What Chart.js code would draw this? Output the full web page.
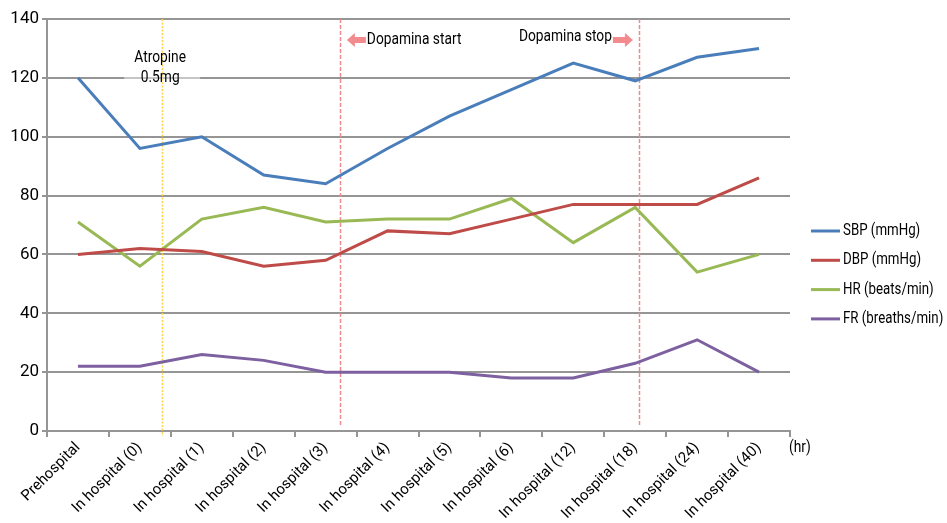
<!DOCTYPE html>
<html>
<head>
<meta charset="utf-8">
<script src="https://cdn.jsdelivr.net/npm/chart.js@4/dist/chart.umd.min.js"></script>
<style>
  html, body { margin: 0; padding: 0; background: #ffffff; }
  #wrap { width: 947px; height: 523px; }
</style>
</head>
<body>
<div id="wrap"><canvas id="vitals" width="947" height="523"></canvas></div>
<script>
// Time points of the observation
const categories = [
  'Prehospital', 'In hospital (0)', 'In hospital (1)', 'In hospital (2)',
  'In hospital (3)', 'In hospital (4)', 'In hospital (5)', 'In hospital (6)',
  'In hospital (12)', 'In hospital (18)', 'In hospital (24)', 'In hospital (40)'
];

// Vital signs at each time point
const sbp = [120, 96, 100, 87, 84, 96, 107, 116, 125, 119, 127, 130];
const dbp = [60, 62, 61, 56, 58, 68, 67, 72, 77, 77, 77, 86];
const hr  = [71, 56, 72, 76, 71, 72, 72, 79, 64, 76, 54, 60];
const fr  = [22, 22, 26, 24, 20, 20, 20, 18, 18, 23, 31, 20];

const seriesNames = ['SBP (mmHg)', 'DBP (mmHg)', 'HR (beats/min)', 'FR (breaths/min)'];
const seriesColors = ['#4a7ebb', '#be4b48', '#98b954', '#7d60a0'];

// Y axis range
const yMin = 0, yMax = 140, yStep = 20;

// Treatment events, placed on the category index axis
const atropineAt = 1.36;
const dopaStartAt = 4.23;
const dopaStopAt = 9.06;

const FONT = 'Roboto, "Liberation Sans", sans-serif';

// Text squeezed horizontally for a condensed look
function narrowText(ctx, text, x, y, align, sx) {
  ctx.save();
  ctx.translate(x, y);
  ctx.scale(sx, 1);
  ctx.textAlign = align;
  ctx.fillText(text, 0, 0);
  ctx.restore();
}

const annotations = {
  id: 'annotations',
  beforeDatasetsDraw(chart) {
    const ctx = chart.ctx;
    const x = chart.scales.x;
    const area = chart.chartArea;
    ctx.save();
    // Atropine marker
    const xa = Math.round(x.getPixelForValue(atropineAt)) + 0.5;
    ctx.strokeStyle = '#ffd34d';
    ctx.lineWidth = 1.5;
    ctx.setLineDash([2, 1.5]);
    ctx.beginPath();
    ctx.moveTo(xa, area.top);
    ctx.lineTo(xa, area.bottom + 5);
    ctx.stroke();
    // Dopamine start / stop markers
    ctx.strokeStyle = '#f08a8e';
    ctx.setLineDash([4, 2]);
    [dopaStartAt, dopaStopAt].forEach(v => {
      const xp = Math.round(x.getPixelForValue(v)) + 0.5;
      ctx.beginPath();
      ctx.moveTo(xp, area.top);
      ctx.lineTo(xp, area.bottom - 4);
      ctx.stroke();
    });
    ctx.restore();
  },
  afterDraw(chart) {
    const ctx = chart.ctx;
    const x = chart.scales.x;
    const y = chart.scales.y;
    const area = chart.chartArea;
    const SX = 0.86;
    ctx.save();
    ctx.fillStyle = '#000';
    ctx.font = '16px ' + FONT;
    ctx.textBaseline = 'middle';

    // Atropine label
    const xa = x.getPixelForValue(atropineAt);
    const y120 = y.getPixelForValue(120);
    ctx.fillStyle = 'rgba(255,255,255,0.45)';
    ctx.fillRect(xa - 38, y120 - 2, 76, 4);
    ctx.fillStyle = '#000';
    narrowText(ctx, 'Atropine', xa - 2, y120 - 20, 'center', SX);
    narrowText(ctx, '0.5mg', xa - 2, y120, 'center', SX);

    // Arrows
    function arrow(x0, x1, yc) {
      const dir = Math.sign(x1 - x0);
      const head = 8;
      ctx.fillStyle = '#f28a8e';
      ctx.beginPath();
      ctx.moveTo(x0, yc - 3);
      ctx.lineTo(x1 - dir * head, yc - 3);
      ctx.lineTo(x1 - dir * head, yc - 7);
      ctx.lineTo(x1, yc);
      ctx.lineTo(x1 - dir * head, yc + 7);
      ctx.lineTo(x1 - dir * head, yc + 3);
      ctx.lineTo(x0, yc + 3);
      ctx.closePath();
      ctx.fill();
    }
    const xs = x.getPixelForValue(dopaStartAt);
    arrow(xs + 26, xs + 7, area.top + 21);
    ctx.fillStyle = '#000';
    narrowText(ctx, 'Dopamina start', xs + 27, area.top + 21, 'left', SX);

    const xe = x.getPixelForValue(dopaStopAt);
    arrow(xe - 26, xe - 6, area.top + 21);
    ctx.fillStyle = '#000';
    narrowText(ctx, 'Dopamina stop', xe - 27, area.top + 18, 'right', SX);

    // Unit of the time axis
    narrowText(ctx, '(hr)', area.right - 1, area.bottom + 17, 'left', SX);

    // Legend
    const lx = 811, ly0 = 231, lstep = 29.3;
    chart.data.datasets.forEach((ds, i) => {
      const yy = ly0 + i * lstep;
      ctx.strokeStyle = ds.borderColor;
      ctx.lineWidth = 3;
      ctx.beginPath();
      ctx.moveTo(lx, yy);
      ctx.lineTo(lx + 29, yy);
      ctx.stroke();
      ctx.fillStyle = '#000';
      narrowText(ctx, ds.label, lx + 32, yy, 'left', 0.83);
    });
    ctx.restore();
  }
};

const seriesData = [sbp, dbp, hr, fr];

new Chart(document.getElementById('vitals'), {
  type: 'line',
  data: {
    labels: categories,
    datasets: seriesData.map((d, i) => ({
      label: seriesNames[i],
      data: d,
      borderColor: seriesColors[i],
      backgroundColor: seriesColors[i],
      borderWidth: 3,
      pointRadius: 0,
      tension: 0,
      fill: false
    }))
  },
  options: {
    responsive: false,
    animation: false,
    devicePixelRatio: 1,
    layout: { padding: { top: 19, right: 157, left: 0, bottom: 0 } },
    plugins: {
      legend: { display: false },
      tooltip: { enabled: false }
    },
    scales: {
      x: {
        type: 'category',
        offset: true,
        grid: {
          offset: true,
          drawOnChartArea: false,
          drawTicks: true,
          tickLength: 6,
          color: '#959595',
          lineWidth: 2
        },
        border: { color: '#959595', width: 2 },
        ticks: {
          color: '#000',
          font: { family: FONT, size: 15 },
          maxRotation: 45,
          minRotation: 45,
          autoSkip: false,
          padding: 2
        },
        afterFit(scale) { scale.height = 92; }
      },
      y: {
        min: yMin,
        max: yMax,
        grid: {
          color: '#959595',
          lineWidth: 2,
          drawTicks: true,
          tickLength: 5
        },
        border: { color: '#959595', width: 2 },
        ticks: {
          stepSize: yStep,
          color: '#000',
          font: { family: FONT, size: 17 },
          padding: 3
        },
        afterFit(scale) { scale.width = 47; }
      }
    }
  },
  plugins: [annotations]
});
</script>
</body>
</html>
